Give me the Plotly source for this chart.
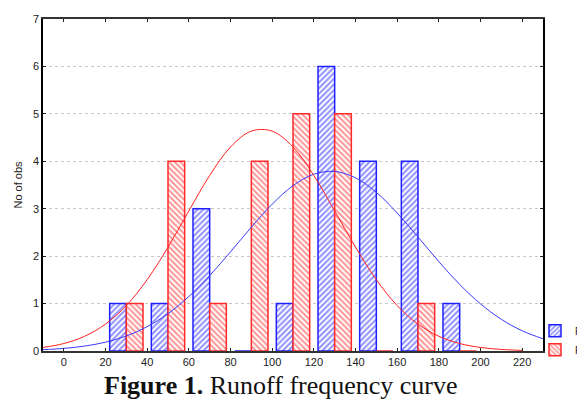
import plotly.graph_objects as go

# ---- data ----
bin_centers = [30, 50, 70, 90, 110, 130, 150, 170, 190]
blue_counts = [1, 1, 3, 0, 1, 6, 4, 4, 1]
red_counts = [1, 4, 1, 4, 5, 5, 0, 1, 0]

curve_x = [-10, 0, 10, 20, 30, 40, 50, 60, 70, 80, 90, 100, 110, 120,
           130, 140, 150, 160, 170, 180, 190, 200, 210, 220, 230]
blue_curve = [0.028, 0.055, 0.104, 0.186, 0.317, 0.513, 0.788, 1.148, 1.590,
              2.091, 2.610, 3.095, 3.486, 3.728, 3.786, 3.652, 3.345, 2.909,
              2.403, 1.885, 1.404, 0.994, 0.668, 0.426, 0.258]
red_curve_x = [-10, 0, 10, 20, 30, 40, 50, 60, 70, 80, 90, 100, 110, 120,
               130, 140, 150, 160, 170, 180, 190, 200, 210, 220]
red_curve = [0.075, 0.158, 0.311, 0.567, 0.958, 1.504, 2.189, 2.955, 3.701,
             4.301, 4.636, 4.636, 4.301, 3.701, 2.955, 2.189, 1.504, 0.958,
             0.567, 0.311, 0.158, 0.075, 0.033, 0.013]

x_ticks = [0, 20, 40, 60, 80, 100, 120, 140, 160, 180, 200, 220]
y_ticks = [0, 1, 2, 3, 4, 5, 6, 7]

BLUE = "#2020ff"
RED = "#ff2a2a"

fig = go.Figure()
fig.add_trace(go.Bar(
    x=bin_centers, y=blue_counts, name="Runoff (station 1)",
    marker=dict(color="white", line=dict(color=BLUE, width=1.5),
                pattern=dict(shape="/", fgcolor=BLUE, bgcolor="white",
                             size=4, solidity=0.5, fillmode="overlay")),
))
fig.add_trace(go.Bar(
    x=bin_centers, y=red_counts, name="Runoff (station 2)",
    marker=dict(color="white", line=dict(color=RED, width=1.5),
                pattern=dict(shape="\\", fgcolor=RED, bgcolor="white",
                             size=4, solidity=0.5, fillmode="overlay")),
))
fig.add_trace(go.Scatter(
    x=curve_x, y=blue_curve, mode="lines", line=dict(color="#3a3aff", width=1, shape="spline"),
    showlegend=False, hoverinfo="skip",
))
fig.add_trace(go.Scatter(
    x=red_curve_x, y=red_curve, mode="lines", line=dict(color="#ff2020", width=1, shape="spline"),
    showlegend=False, hoverinfo="skip",
))

fig.update_layout(
    width=577, height=401,
    margin=dict(l=43, r=34, t=19, b=50, autoexpand=False),
    paper_bgcolor="white", plot_bgcolor="white",
    barmode="group", bargap=0.2, bargroupgap=0,
    font=dict(family="Liberation Sans, Arial, sans-serif", size=11, color="#222"),
    legend=dict(x=0.984, xanchor="left", y=0.105, yanchor="top",
                font=dict(size=10, color="#222"), bgcolor="rgba(0,0,0,0)",
                tracegroupgap=0),
    annotations=[dict(
        text="<b>Figure 1.</b> Runoff frequency curve",
        xref="paper", yref="paper", x=0.476, y=-0.105,
        xanchor="center", yanchor="middle", showarrow=False,
        font=dict(family="Liberation Serif, Times New Roman, serif", size=26, color="#111"),
    )],
)
fig.update_xaxes(
    range=[-10, 230], tickvals=x_ticks, ticks="inside", ticklen=3,
    tickcolor="#222", showline=True, linecolor="#333", linewidth=1.5,
    mirror="ticks", showgrid=False, zeroline=False,
)
fig.update_yaxes(
    range=[0, 7], tickvals=y_ticks, ticks="inside", ticklen=3,
    tickcolor="#222", showline=True, linecolor="black", linewidth=1.5,
    mirror="ticks", showgrid=True, gridcolor="#c8c8c8", griddash="dot",
    gridwidth=1, zeroline=False,
    title=dict(text="No of obs", standoff=8, font=dict(size=11)),
)

fig.write_html("out.html")
